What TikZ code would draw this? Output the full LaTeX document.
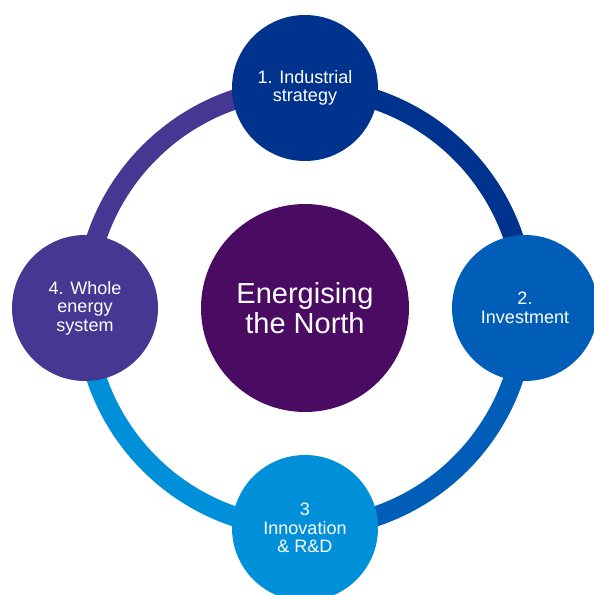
\documentclass[tikz,border=0pt]{standalone}
\usepackage{fontspec}
\setmainfont{Liberation Sans}
\usetikzlibrary{backgrounds}
\definecolor{ctop}{HTML}{00338D}
\definecolor{cright}{HTML}{005EB8}
\definecolor{cbottom}{HTML}{0090D9}
\definecolor{cleft}{HTML}{463792}
\definecolor{ccenter}{HTML}{4A0B63}
\tikzset{
  stage/.style={circle, minimum size=146pt, inner sep=0pt, text=white, align=center,
    font=\fontsize{18}{18.5}\selectfont},
  hub/.style={circle, minimum size=208pt, inner sep=0pt, text=white, align=center,
    fill=ccenter, font=\fontsize{29}{30}\selectfont},
  ring/.style={line width=20pt}
}
\begin{document}
\begin{tikzpicture}[x=1pt,y=1pt]
\useasboundingbox (0,0) rectangle (594,595);
\coordinate (c) at (305,287);
\node[hub] (hub) at (c) {Energising\\the North};
\node[stage, fill=ctop] (top) at (305,507) {1. Industrial\\strategy};
\node[stage, fill=cright] (right) at (525,287) {2.\\Investment};
\node[stage, fill=cbottom] (bottom) at (305,67) {3\\Innovation\\\& R\&D};
\node[stage, fill=cleft] (left) at (85,287) {4. Whole\\energy\\system};
\begin{scope}[on background layer]
  \draw[ring, ctop] (top.center) arc[start angle=90, end angle=0, radius=220];
  \draw[ring, cright] (right.center) arc[start angle=0, end angle=-90, radius=220];
  \draw[ring, cbottom] (bottom.center) arc[start angle=-90, end angle=-180, radius=220];
  \draw[ring, cleft] (left.center) arc[start angle=180, end angle=90, radius=220];
\end{scope}
\end{tikzpicture}
\end{document}
